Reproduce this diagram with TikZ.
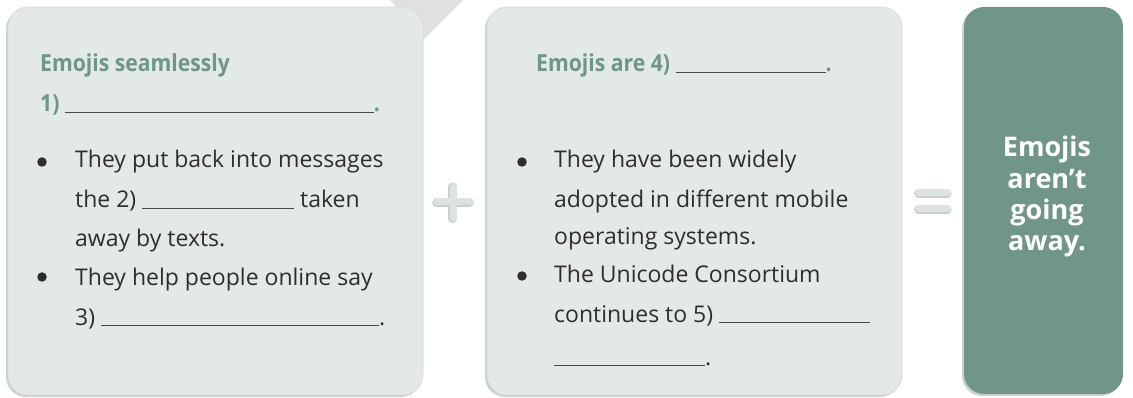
\documentclass[tikz,border=0pt]{standalone}
\usepackage{fontspec}
\setmainfont{Open Sans}
\newfontfamily\titlefont[FakeStretch=0.9]{Open Sans}
\usetikzlibrary{positioning}
\definecolor{boxfill}{HTML}{E3E9E7}
\definecolor{boxedge}{HTML}{D3DAD8}
\definecolor{boxshadow}{HTML}{CCD3D1}
\definecolor{titlegreen}{HTML}{6E968B}
\definecolor{darkbox}{HTML}{70968C}
\definecolor{bodytext}{HTML}{2E2E2E}
\definecolor{linegray}{HTML}{4A4A4A}
\definecolor{signgray}{HTML}{DDE3E1}
\definecolor{signedge}{HTML}{C8CFCD}
\definecolor{wmark}{HTML}{D9D9D9}
\newcommand{\blankline}[1]{\textcolor{linegray}{\rule[-1.2pt]{#1}{1.1pt}}}
\tikzset{
  panel/.style={fill=boxfill, draw=boxedge, line width=0.6pt, rounded corners=20pt},
  panelshadow/.style={fill=boxshadow, rounded corners=20pt},
  resultpanel/.style={fill=darkbox, rounded corners=20pt},
  titleline/.style={anchor=base west, inner sep=0pt, text=titlegreen, font=\titlefont\bfseries\fontsize{23.5}{28}\selectfont},
  bodyline/.style={anchor=base west, inner sep=0pt, text=bodytext, font=\fontsize{23}{28}\selectfont},
  bulletdot/.style={circle, fill=bodytext, draw=none, inner sep=0pt, minimum size=9.5pt},
  resultline/.style={anchor=base, inner sep=0pt, text=white, font=\bfseries\fontsize{27}{31}\selectfont},
  signbar/.style={line width=7pt, line cap=round, draw=signgray},
  signbarshadow/.style={line width=8.4pt, line cap=round, draw=signedge},
}
\begin{document}
\begin{tikzpicture}[x=1pt, y=-1pt]
\useasboundingbox (0,0) rectangle (1133,398);
\fill[white] (0,0) rectangle (1133,398);

% watermark fragment
\fill[wmark, opacity=0.8] (390,0) -- (463,0) -- (409,54) -- (402,47) -- (417,32) -- cycle;

% panels with shadows
\fill[panelshadow] (6,9) rectangle (421,397);
\draw[panel] (8,7) rectangle (423,395);
\fill[panelshadow] (485,9) rectangle (900,397);
\draw[panel] (487,7) rectangle (902,395);
\fill[panelshadow] (962,9) rectangle (1121,396);
\fill[resultpanel] (964,7) rectangle (1123,394);

% panel 1 text
\node[titleline] (t1a) at (40,72) {Emojis seamlessly};
\node[titleline] (t1b) at (40,112) {1) \blankline{309pt}.};
\node[bulletdot] (b1) at (42,162) {};
\node[bodyline] (l1a) at (75,168) {They put back into messages};
\node[bodyline] (l1b) at (75,208) {the 2) \blankline{152pt} taken};
\node[bodyline] (l1c) at (75,247) {away by texts.};
\node[bulletdot] (b2) at (42,277) {};
\node[bodyline] (l1d) at (75,285) {They help people online say};
\node[bodyline] (l1e) at (75,325) {3) \blankline{278pt}.};

% plus sign
\coordinate (pl) at (437,202);
\coordinate (pr) at (470,202);
\coordinate (pt) at (453,186);
\coordinate (pb) at (453,218);
\draw[signbarshadow] ([shift={(-0.6,0.6)}]pl) -- ([shift={(-0.6,0.6)}]pr);
\draw[signbarshadow] ([shift={(-0.6,0.6)}]pt) -- ([shift={(-0.6,0.6)}]pb);
\draw[signbar] (pl) -- (pr);
\draw[signbar] (pt) -- (pb);

% panel 2 text
\node[titleline] (t2a) at (536,72) {Emojis are 4) \blankline{150pt}.};
\node[bulletdot] (b3) at (522,162) {};
\node[bodyline] (l2a) at (554,168) {They have been widely};
\node[bodyline] (l2b) at (554,208) {adopted in different mobile};
\node[bodyline] (l2c) at (554,245) {operating systems.};
\node[bulletdot] (b4) at (522,276) {};
\node[bodyline] (l2d) at (554,283) {The Unicode Consortium};
\node[bodyline] (l2e) at (554,322) {continues to 5) \blankline{151pt}};
\node[bodyline] (l2f) at (554,365) {\blankline{151pt}.};

% equals sign
\coordinate (e1l) at (919,193);
\coordinate (e1r) at (948,193);
\coordinate (e2l) at (919,209);
\coordinate (e2r) at (948,209);
\draw[signbarshadow] ([shift={(-0.6,0.6)}]e1l) -- ([shift={(-0.6,0.6)}]e1r);
\draw[signbarshadow] ([shift={(-0.6,0.6)}]e2l) -- ([shift={(-0.6,0.6)}]e2r);
\draw[signbar] (e1l) -- (e1r);
\draw[signbar] (e2l) -- (e2r);

% result panel text
\node[resultline] (r1) at (1047,157) {Emojis};
\node[resultline] (r2) at (1047,189) {aren’t};
\node[resultline] (r3) at (1047,220) {going};
\node[resultline] (r4) at (1047,251) {away.};
\end{tikzpicture}
\end{document}
